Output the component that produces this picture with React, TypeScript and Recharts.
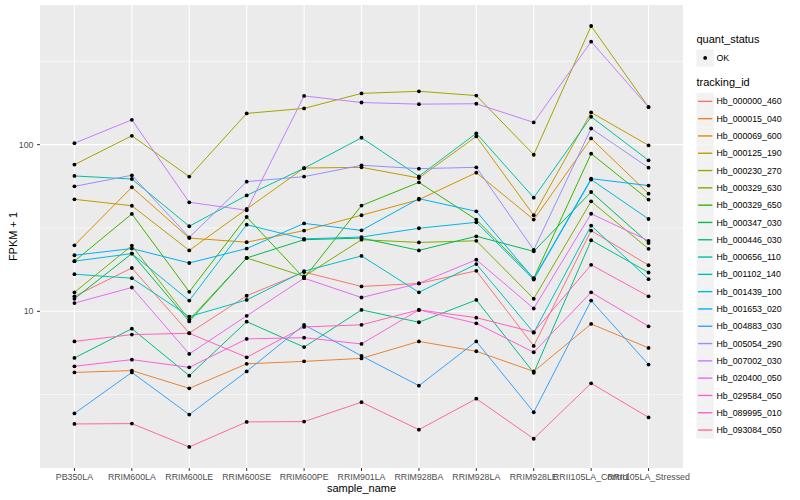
import React from 'react';
import { LineChart, Line, XAxis, YAxis, CartesianGrid, Label } from 'recharts';

const samples = ['PB350LA', 'RRIM600LA', 'RRIM600LE', 'RRIM600SE', 'RRIM600PE', 'RRIM901LA', 'RRIM928BA', 'RRIM928LA', 'RRIM928LE', 'RRII105LA_Control', 'RRII105LA_Stressed'];

const Hb_000000_460 = [12.3, 18.2, 7.4, 12.4, 17.2, 14.1, 14.7, 17.5, 6.2, 30.5, 18.9];
const Hb_000015_040 = [4.3, 4.41, 3.45, 4.84, 5.01, 5.22, 6.6, 5.76, 4.36, 8.4, 6.03];
const Hb_000069_600 = [24.9, 55.5, 27.5, 26.0, 30.5, 37.7, 46.8, 67.9, 35.5, 109, 50.8];
const Hb_000125_190 = [47, 43, 23.2, 41.1, 72.4, 73.1, 63.1, 112, 37.7, 156, 99];
const Hb_000230_270 = [75.9, 113, 64.3, 154, 165, 203, 209, 197, 87, 515, 168];
const Hb_000329_630 = [13.0, 24.8, 8.9, 20.9, 16.2, 26.9, 25.9, 26.5, 11.9, 45.7, 23.7];
const Hb_000329_650 = [20.0, 38.4, 13.1, 36.8, 15.8, 43.1, 59.4, 35.5, 15.8, 88.3, 46.8];
const Hb_000347_030 = [11.9, 22.2, 8.7, 20.9, 26.9, 27.5, 23.2, 28.2, 22.9, 52.0, 25.7];
const Hb_000446_030 = [5.25, 7.87, 4.11, 8.67, 6.1, 10.2, 8.6, 11.7, 4.28, 26.7, 17.1];
const Hb_000656_110 = [64.9, 62.2, 32.4, 49.6, 72.2, 110, 64.6, 117, 48.1, 147, 80.5];
const Hb_001102_140 = [16.7, 15.8, 9.3, 11.7, 17.4, 21.5, 13.0, 19.2, 7.45, 32.7, 15.6];
const Hb_001439_100 = [20.0, 22.2, 11.6, 33.1, 27.2, 27.9, 31.5, 34.2, 15.5, 61.7, 35.8];
const Hb_001653_020 = [21.7, 23.8, 19.5, 23.8, 33.7, 30.6, 47.4, 39.8, 15.7, 62.5, 56.8];
const Hb_004883_030 = [2.44, 4.3, 2.4, 4.36, 8.3, 5.4, 3.58, 6.6, 2.48, 11.6, 4.79];
const Hb_005054_290 = [56.2, 65.5, 27.8, 60, 64.3, 75.2, 71.8, 73.1, 23.4, 125, 72.8];
const Hb_007002_030 = [102, 141, 45.1, 40.4, 196, 179, 175, 176, 136, 415, 168];
const Hb_020400_050 = [11.2, 13.9, 5.55, 9.4, 15.8, 12.1, 14.7, 20.4, 10.4, 38.5, 26.5];
const Hb_029584_050 = [4.68, 5.13, 4.61, 6.83, 6.95, 6.37, 10.2, 8.47, 5.68, 13.0, 8.13];
const Hb_089995_010 = [6.6, 7.25, 7.38, 5.3, 8.06, 8.3, 10.2, 9.16, 7.5, 19.0, 12.3];
const Hb_093084_050 = [2.11, 2.12, 1.535, 2.17, 2.18, 2.85, 1.95, 2.99, 1.72, 3.7, 2.31];

const trackingIds = [
  'Hb_000000_460', 'Hb_000015_040', 'Hb_000069_600', 'Hb_000125_190', 'Hb_000230_270',
  'Hb_000329_630', 'Hb_000329_650', 'Hb_000347_030', 'Hb_000446_030', 'Hb_000656_110',
  'Hb_001102_140', 'Hb_001439_100', 'Hb_001653_020', 'Hb_004883_030', 'Hb_005054_290',
  'Hb_007002_030', 'Hb_020400_050', 'Hb_029584_050', 'Hb_089995_010', 'Hb_093084_050',
];
const seriesValues = [
  Hb_000000_460, Hb_000015_040, Hb_000069_600, Hb_000125_190, Hb_000230_270,
  Hb_000329_630, Hb_000329_650, Hb_000347_030, Hb_000446_030, Hb_000656_110,
  Hb_001102_140, Hb_001439_100, Hb_001653_020, Hb_004883_030, Hb_005054_290,
  Hb_007002_030, Hb_020400_050, Hb_029584_050, Hb_089995_010, Hb_093084_050,
];
const colors = [
  '#F8766D', '#EA8331', '#D89000', '#C09B00', '#A3A500', '#7CAE00', '#39B600', '#00BB4E', '#00BF7D', '#00C1A3',
  '#00BFC4', '#00BAE0', '#00B0F6', '#35A2FF', '#9590FF', '#C77CFF', '#E76BF3', '#FA62DB', '#FF62BC', '#FF6C91',
];

const yTicks = [10, 100];
const yMinor = [Math.sqrt(10), Math.sqrt(10) * 10, Math.sqrt(10) * 100];
const yDomain = [1.148, 688.5];

const data = samples.map((s, i) => {
  const row: any = { idx: i, sample: s };
  trackingIds.forEach((id, k) => { row[id] = seriesValues[k][i]; });
  return row;
});
const xTicks = samples.map((_, i) => i);

const FONT = '"Liberation Sans", Arial, Helvetica, sans-serif';

const renderDot = (p: any) => (
  <circle key={`d-${p.dataKey}-${p.index}`} cx={p.cx} cy={p.cy} r={1.9} fill="#000" />
);

const LegendBox = () => {
  const x0 = 696.5;
  const key = 17.3;
  const firstTop = 92.7;
  return (
    <svg width={800} height={500} style={{ position: 'absolute', left: 0, top: 0, pointerEvents: 'none' }}>
      <text x={x0} y={42.5} fontSize={11} fontFamily={FONT} fill="#000">quant_status</text>
      <rect x={x0} y={49.3} width={key} height={key} fill="#F2F2F2" />
      <circle cx={x0 + key / 2} cy={49.3 + key / 2} r={1.9} fill="#000" />
      <text x={716.5} y={49.3 + key / 2 + 3.1} fontSize={8.8} fontFamily={FONT} fill="#000">OK</text>
      <text x={x0} y={86} fontSize={11} fontFamily={FONT} fill="#000">tracking_id</text>
      {trackingIds.map((id, k) => {
        const top = firstTop + k * key;
        return (
          <g key={id}>
            <rect x={x0} y={top} width={key} height={key} fill="#F2F2F2" />
            <line x1={x0 + 1.5} x2={x0 + key - 1.5} y1={top + key / 2} y2={top + key / 2} stroke={colors[k]} strokeWidth={1.4} />
            <text x={716.5} y={top + key / 2 + 3.1} fontSize={8.8} fontFamily={FONT} fill="#000">{id}</text>
          </g>
        );
      })}
    </svg>
  );
};

export default function App() {
  return (
    <div style={{ position: 'absolute', left: 0, top: 0, width: 800, height: 500, background: '#fff', fontFamily: FONT }}>
      <LineChart width={800} height={500} data={data} margin={{ top: 5, right: 117, bottom: 0, left: 5 }}>
        <CartesianGrid fill="#EBEBEB" stroke="#FFFFFF" strokeWidth={0.6} vertical={false} horizontalValues={yMinor} />
        <CartesianGrid stroke="#FFFFFF" strokeWidth={1.1} horizontalValues={yTicks} verticalValues={xTicks} fillOpacity={0} />
        <XAxis
          type="number"
          dataKey="idx"
          domain={[-0.6, 10.6]}
          ticks={xTicks}
          interval={0}
          allowDataOverflow
          tickFormatter={(v: number) => samples[v] ?? ''}
          height={32}
          axisLine={false}
          tickSize={3}
          tickMargin={3}
          tickLine={{ stroke: '#333333' }}
          tick={{ fill: '#4D4D4D', fontSize: 8.8, fontFamily: FONT }}
        >
          <Label value="sample_name" position="insideBottom" offset={8} fill="#000" fontSize={11} fontFamily={FONT} />
        </XAxis>
        <YAxis
          type="number"
          scale="log"
          domain={yDomain}
          allowDataOverflow
          ticks={yTicks}
          width={35}
          axisLine={false}
          tickSize={3}
          tickMargin={3.5}
          tickLine={{ stroke: '#333333' }}
          tick={{ fill: '#4D4D4D', fontSize: 8.8, fontFamily: FONT }}
        >
          <Label
            content={() => (
              <text x={13} y={236.5} transform="rotate(-90 13 236.5)" textAnchor="middle" dominantBaseline="central" fontSize={11} fontFamily={FONT} fill="#000">
                FPKM + 1
              </text>
            )}
          />
        </YAxis>
        {trackingIds.map((id, k) => (
          <Line
            key={id}
            type="linear"
            dataKey={id}
            stroke={colors[k]}
            strokeWidth={1}
            dot={renderDot}
            activeDot={false}
            isAnimationActive={false}
          />
        ))}
      </LineChart>
      <LegendBox />
    </div>
  );
}
